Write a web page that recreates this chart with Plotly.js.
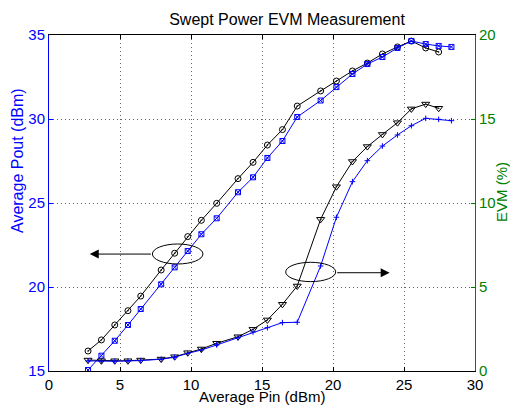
<!DOCTYPE html>
<html>
<head>
<meta charset="utf-8">
<script src="https://cdn.plot.ly/plotly-3.0.1.min.js"></script>
<style>html,body{margin:0;padding:0;background:#fff;}#chart{width:510px;height:406px;}</style>
</head>
<body>
<div id="chart"></div>
<script>
// Average input power (dBm)
var pin = [2.75,3.69,4.63,5.56,6.46,7.90,8.85,9.77,10.73,11.81,13.31,14.37,15.38,16.44,17.48,19.13,20.24,21.37,22.42,23.48,24.54,25.52,26.53,27.44,28.34];
// Average Pout (dBm), left axis
var poutCircle = [16.19,16.85,17.74,18.59,19.46,21.01,22.01,23.0,23.97,24.98,26.45,27.42,28.45,29.37,30.77,31.67,32.26,32.86,33.33,33.87,34.29,34.64,34.23,33.99];
var poutSquare = [15.06,15.91,16.80,17.74,18.69,20.16,21.17,22.14,23.14,24.09,25.64,26.53,27.68,28.69,30.12,31.1,31.9,32.68,33.27,33.69,34.23,34.64,34.46,34.35,34.29];
// EVM (%), right axis
var evmTriangle = [0.65,0.61,0.61,0.61,0.65,0.71,0.85,1.09,1.31,1.65,2.04,2.48,3.04,3.97,5.06,9.03,10.97,12.47,13.36,14.08,14.78,15.6,15.89,15.64];
var evmPlus = [0.6,0.58,0.58,0.6,0.62,0.7,0.82,1.05,1.25,1.55,1.98,2.32,2.58,2.88,2.9,6.25,9.15,11.27,12.52,13.39,14.05,14.6,15.04,14.98,14.9];
// Tick values
var xTicks = [0,5,10,15,20,25,30];
var yLeftTicks = [15,20,25,30,35];
var yRightTicks = [0,5,10,15,20];

var BLUE = '#0000ff', GREEN = '#008000', FONT = 'Liberation Sans, Arial, sans-serif';

var traces = [
  {x: pin.slice(0, poutCircle.length), y: poutCircle, yaxis: 'y', mode: 'lines+markers',
   line: {color: '#000', width: 1}, marker: {symbol: 'circle-open-dot', size: 6, color: '#000', line: {width: 1}}},
  {x: pin.slice(0, poutSquare.length), y: poutSquare, yaxis: 'y', mode: 'lines+markers',
   line: {color: BLUE, width: 1}, marker: {symbol: 'square-x-open', size: 5, color: BLUE, line: {width: 1}}},
  {x: pin.slice(0, evmTriangle.length), y: evmTriangle, yaxis: 'y2', mode: 'lines+markers',
   line: {color: '#000', width: 1}, marker: {symbol: 'triangle-down-open-dot', size: 7, color: '#000', line: {width: 1}}},
  {x: pin.slice(0, evmPlus.length), y: evmPlus, yaxis: 'y2', mode: 'lines+markers',
   line: {color: BLUE, width: 1}, marker: {symbol: 'cross-thin-open', size: 4, color: BLUE, line: {width: 1}}}
];

var layout = {
  width: 510, height: 406,
  margin: {l: 49, r: 35, t: 35, b: 35},
  paper_bgcolor: '#fff', plot_bgcolor: '#fff',
  showlegend: false,
  font: {family: FONT, size: 15, color: '#000'},
  title: {text: 'Swept Power EVM Measurement', font: {family: FONT, size: 16, color: '#000'},
          x: (287 - 49) / 426, xref: 'paper', xanchor: 'center', y: 1 - 19/406, yref: 'container', yanchor: 'middle'},
  xaxis: {range: [0, 30], tickvals: xTicks, ticks: 'inside', ticklen: 4, tickcolor: '#000',
          showline: true, linecolor: '#000', linewidth: 1, mirror: 'ticks', zeroline: false,
          showgrid: true, gridcolor: '#666', griddash: '1px,3px', gridwidth: 1,
          tickfont: {family: FONT, size: 15, color: '#000'}},
  yaxis: {range: [15, 35], tickvals: yLeftTicks, ticks: 'inside', ticklen: 4, tickcolor: BLUE,
          showline: true, linecolor: BLUE, linewidth: 1, zeroline: false,
          showgrid: true, gridcolor: '#4d4dff', griddash: '1px,3px', gridwidth: 1,
          tickfont: {family: FONT, size: 15, color: BLUE}},
  yaxis2: {range: [0, 20], tickvals: yRightTicks, ticks: 'inside', ticklen: 4, tickcolor: GREEN,
           overlaying: 'y', side: 'right', showline: true, linecolor: GREEN, linewidth: 1,
           zeroline: false, showgrid: false,
           tickfont: {family: FONT, size: 15, color: GREEN}},
  shapes: [
    {type: 'circle', xref: 'x', yref: 'y', x0: 7.28, x1: 10.84, y0: 21.37, y1: 22.56,
     line: {color: '#000', width: 1}},
    {type: 'circle', xref: 'x', yref: 'y', x0: 16.67, x1: 20.19, y0: 20.32, y1: 21.47,
     line: {color: '#000', width: 1}}
  ],
  annotations: [
    {x: 2.87, y: 21.96, xref: 'x', yref: 'y', ax: 7.28, ay: 21.96, axref: 'x', ayref: 'y',
     showarrow: true, arrowhead: 2, arrowsize: 1.8, arrowwidth: 1, arrowcolor: '#000', text: ''},
    {x: 23.99, y: 20.85, xref: 'x', yref: 'y', ax: 20.19, ay: 20.85, axref: 'x', ayref: 'y',
     showarrow: true, arrowhead: 2, arrowsize: 1.8, arrowwidth: 1, arrowcolor: '#000', text: ''},
    {text: 'Average Pin (dBm)', xref: 'paper', yref: 'paper', x: (262 - 49) / 426, y: (371 - 396) / 336,
     xanchor: 'center', yanchor: 'middle', showarrow: false,
     font: {family: FONT, size: 15, color: '#000'}},
    {text: 'Average Pout (dBm)', xref: 'paper', yref: 'paper', x: (17 - 49) / 426, y: (371 - 161) / 336,
     xanchor: 'center', yanchor: 'middle', textangle: -90, showarrow: false,
     font: {family: FONT, size: 16, color: BLUE}},
    {text: 'EVM (%)', xref: 'paper', yref: 'paper', x: (501 - 49) / 426, y: (371 - 192) / 336,
     xanchor: 'center', yanchor: 'middle', textangle: -90, showarrow: false,
     font: {family: FONT, size: 15, color: GREEN}}
  ]
};

Plotly.newPlot('chart', traces, layout, {displayModeBar: false, staticPlot: true});
</script>
</body>
</html>
